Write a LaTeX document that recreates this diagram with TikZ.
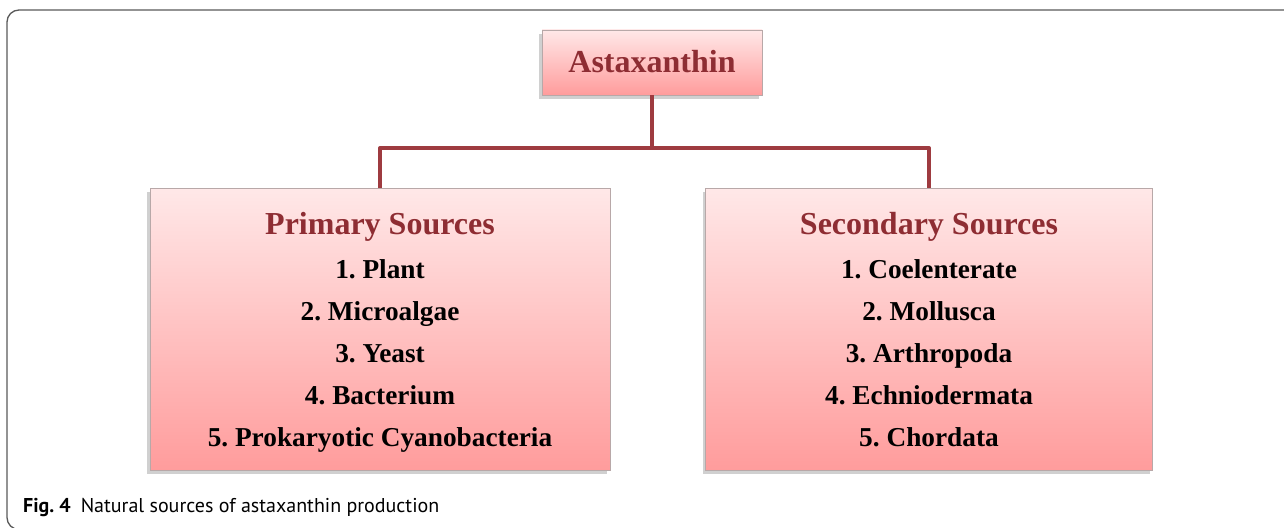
\documentclass[tikz,border=0pt]{standalone}
\usepackage{fontspec}
\setmainfont{Liberation Serif}
\newfontfamily\capfont{PT Sans}
\usetikzlibrary{shadows}
\definecolor{darkred}{HTML}{8E2D33}
\definecolor{connred}{HTML}{9E3B40}
\definecolor{pinktop}{HTML}{FFE8E8}
\definecolor{pinkbot}{HTML}{FF9C9C}
\definecolor{boxedge}{HTML}{B8A8A8}
\definecolor{framegray}{HTML}{5A5A5A}
\tikzset{
  pinkbox/.style={draw=boxedge, line width=0.8pt, top color=pinktop, bottom color=pinkbot,
    drop shadow={shadow xshift=-3pt, shadow yshift=-4pt, opacity=0.3, fill=black!60}},
  conn/.style={draw=connred, line width=4pt, line join=round},
  titletext/.style={anchor=base, inner sep=0pt, font=\bfseries\fontsize{32}{36}\selectfont, text=darkred},
  itemtext/.style={anchor=base, inner sep=0pt, font=\bfseries\fontsize{27.3}{30}\selectfont, text=black}
}
\frenchspacing
\begin{document}
\begin{tikzpicture}[x=1pt,y=1pt]
\clip (0,0) rectangle (1284,-527);
\fill[white] (0,0) rectangle (1284,-527);
\draw[framegray, line width=1.3pt, rounded corners=12pt] (1300,-10) -- (7,-10) -- (7,-529.5) -- (1300,-529.5);
% boxes
\node[pinkbox, minimum width=220pt, minimum height=65pt, inner sep=0pt] (ast) at (652,-62.5) {};
\node[titletext] (astt) at (652,-73) {Astaxanthin};
\node[pinkbox, minimum width=460pt, minimum height=282pt, inner sep=0pt] (prim) at (380,-329) {};
\node[pinkbox, minimum width=447pt, minimum height=282pt, inner sep=0pt] (sec) at (929,-329) {};
% connectors
\coordinate (bus) at (0,-148);
\draw[conn] (ast.south) -- (ast.south |- bus);
\draw[conn] (prim.north) |- (bus -| ast.south) -| (sec.north);
% left text
\node[titletext] (pt) at (380,-234.5) {Primary Sources};
\node[itemtext] (p1) at (380,-278) {1. Plant};
\node[itemtext] (p2) at (380,-320) {2. Microalgae};
\node[itemtext] (p3) at (380,-362) {3. Yeast};
\node[itemtext] (p4) at (380,-404) {4. Bacterium};
\node[itemtext] (p5) at (380,-446) {5. Prokaryotic Cyanobacteria};
% right text
\node[titletext] (st) at (929,-234.5) {Secondary Sources};
\node[itemtext] (s1) at (929,-278) {1. Coelenterate};
\node[itemtext] (s2) at (929,-320) {2. Mollusca};
\node[itemtext] (s3) at (929,-362) {3. Arthropoda};
\node[itemtext] (s4) at (929,-404) {4. Echniodermata};
\node[itemtext] (s5) at (929,-446) {5. Chordata};
% caption
\node[anchor=base west, inner sep=0pt, font=\capfont\fontsize{20}{23}\selectfont] (cap) at (23,-512) {\textbf{Fig.~4}\hspace{10pt}Natural sources of astaxanthin production};
\end{tikzpicture}
\end{document}
